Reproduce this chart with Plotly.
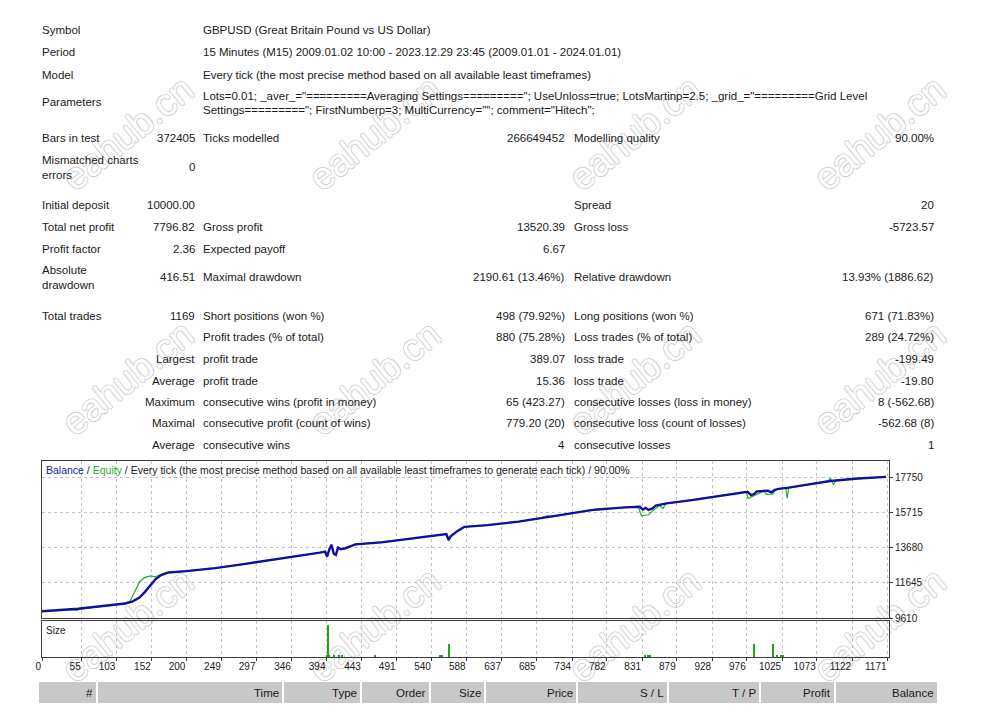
import plotly.graph_objects as go

W, H = 990, 715

# balance curve: trade number -> account balance
balance_trade = [0, 25, 50, 75, 100, 115, 125, 135, 142, 150, 157, 165, 175, 200, 240,
                 272, 310, 350, 385, 392, 395, 398, 401, 404, 407, 410, 414, 420, 434,
                 470, 500, 548, 560, 563, 566, 575, 585, 617, 660, 702, 730, 761, 807,
                 828, 832, 836, 840, 845, 850, 865, 900, 944, 977, 982, 986, 990, 1005,
                 1010, 1015, 1020, 1032, 1060, 1082, 1092, 1130, 1169]
balance_value = [10000, 10060, 10150, 10260, 10380, 10450, 10560, 10800, 11100, 11500,
                 11850, 12100, 12250, 12330, 12500, 12690, 12920, 13150, 13400, 13460,
                 13180, 13600, 13850, 13350, 13270, 13700, 13600, 13650, 13880, 14000,
                 14150, 14420, 14480, 14150, 14350, 14650, 14900, 15000, 15200, 15480,
                 15650, 15870, 16026, 16060, 15900, 16000, 15880, 15950, 16130, 16260,
                 16450, 16737, 16928, 16740, 16800, 16950, 17000, 16900, 17050, 17100,
                 17160, 17350, 17506, 17560, 17700, 17797]

# equity curve (only differs from balance where positions were open)
equity_trade = [0, 40, 48, 55, 100, 115, 122, 128, 135, 142, 150, 157, 165, 175, 200,
                240, 272, 310, 350, 385, 392, 395, 398, 401, 404, 407, 410, 414, 434,
                500, 548, 560, 563, 566, 575, 585, 617, 660, 690, 700, 705, 761, 770,
                790, 807, 826, 830, 840, 848, 855, 860, 864, 944, 975, 978, 985, 1000,
                1003, 1012, 1016, 1030, 1032, 1034, 1082, 1088, 1092, 1096, 1100, 1130,
                1169]
equity_value = [10000, 10100, 10050, 10140, 10380, 10470, 10600, 11100, 11700, 11950,
                12050, 12000, 12150, 12250, 12330, 12500, 12690, 12920, 13150, 13400,
                13460, 13150, 13600, 13850, 13300, 13250, 13650, 13600, 13880, 14150,
                14420, 14480, 14080, 14350, 14650, 14900, 15000, 15200, 15400, 15550,
                15480, 15870, 15950, 15980, 16026, 16050, 15540, 15600, 15900, 16150,
                15960, 16250, 16737, 16930, 16546, 16700, 16980, 16780, 16800, 17050,
                17150, 16546, 17160, 17506, 17560, 17700, 17360, 17600, 17700, 17797]

# lot sizes of the trades that show up in the size panel
size_trade = [394, 396, 398, 404, 411, 415, 461, 551, 554, 564, 835, 839, 842,
              986, 1012, 1018, 1023, 1026]
size_lots = [0.03, 0.39, 0.03, 0.03, 0.03, 0.03, 0.03, 0.03, 0.03, 0.16, 0.03, 0.03,
             0.03, 0.16, 0.16, 0.03, 0.03, 0.03]

x_ticks = [0, 55, 103, 152, 200, 249, 297, 346, 394, 443, 491, 540, 588, 637, 685,
           734, 782, 831, 879, 928, 976, 1025, 1073, 1122, 1171]
y_ticks = [9610, 11645, 13680, 15715, 17750]

# report summary: label, value, label, value, label, value
summary_rows = [
    ["Symbol", "", "GBPUSD (Great Britain Pound vs US Dollar)", "", "", ""],
    ["Period", "", "15 Minutes (M15) 2009.01.02 10:00 - 2023.12.29 23:45 (2009.01.01 - 2024.01.01)", "", "", ""],
    ["Model", "", "Every tick (the most precise method based on all available least timeframes)", "", "", ""],
    ["Parameters", "", "", "", "", ""],
    ["Bars in test", "372405", "Ticks modelled", "266649452", "Modelling quality", "90.00%"],
    ["Mismatched charts<br>errors", "0", "", "", "", ""],
    ["Initial deposit", "10000.00", "", "", "Spread", "20"],
    ["Total net profit", "7796.82", "Gross profit", "13520.39", "Gross loss", "-5723.57"],
    ["Profit factor", "2.36", "Expected payoff", "6.67", "", ""],
    ["Absolute<br>drawdown", "416.51", "Maximal drawdown", "2190.61 (13.46%)", "Relative drawdown", "13.93% (1886.62)"],
    ["Total trades", "1169", "Short positions (won %)", "498 (79.92%)", "Long positions (won %)", "671 (71.83%)"],
    ["", "", "Profit trades (% of total)", "880 (75.28%)", "Loss trades (% of total)", "289 (24.72%)"],
    ["", "Largest", "profit trade", "389.07", "loss trade", "-199.49"],
    ["", "Average", "profit trade", "15.36", "loss trade", "-19.80"],
    ["", "Maximum", "consecutive wins (profit in money)", "65 (423.27)", "consecutive losses (loss in money)", "8 (-562.68)"],
    ["", "Maximal", "consecutive profit (count of wins)", "779.20 (20)", "consecutive loss (count of losses)", "-562.68 (8)"],
    ["", "Average", "consecutive wins", "4", "consecutive losses", "1"],
]
parameter_lines = [
    'Lots=0.01; _aver_="=========Averaging Settings========="; UseUnloss=true; LotsMartinp=2.5; _grid_="=========Grid Level',
    'Settings========="; FirstNumberp=3; MultiCurrency=""; comment="Hitech";',
]
chart_title = ("<span style='color:#1a1aa8'>Balance</span> / "
               "<span style='color:#22b022'>Equity</span> / Every tick (the most precise method "
               "based on all available least timeframes to generate each tick) / 90.00%")
table_headers = ["#", "Time", "Type", "Order", "Size", "Price", "S / L", "T / P", "Profit", "Balance"]
watermark = "eahub.cn"

# pixel layout of the report (page body adds an 8px margin, taken off in px/py)
OFF = 8
row_y = [30, 52, 75, 102, 138, 167, 205, 227, 249, 277, 316, 337, 359, 381, 402, 423, 445]
col_x = [42, 195, 203, 565, 574, 934]
col_anchor = ["left", "right", "left", "right", "left", "right"]
header_edges = [38, 97, 283, 361, 430, 485, 577, 668, 760, 835, 938]
wm_x = [125, 372, 632, 877]
wm_y = [130, 375, 622]
FONT = "Liberation Sans"


def px(x):
    return (x - OFF) / W


def py(y):
    return 1 - (y - OFF) / H


def label(x, y, text, anchor="left", size=11.5, color="#1a1a1a", **kw):
    return dict(x=px(x), y=py(y), xref="paper", yref="paper", text=text, showarrow=False,
                xanchor=anchor, yanchor="middle", align=anchor, borderpad=0, borderwidth=0,
                font=dict(family=FONT, size=size, color=color), **kw)


fig = go.Figure()
fig.add_trace(go.Scatter(x=equity_trade, y=equity_value, mode="lines",
                         line=dict(color="#22b022", width=1.2), xaxis="x", yaxis="y"))
fig.add_trace(go.Scatter(x=balance_trade, y=balance_value, mode="lines",
                         line=dict(color="#10109c", width=2.4), xaxis="x", yaxis="y"))
fig.add_trace(go.Bar(x=size_trade, y=size_lots, width=1.0, marker=dict(color="#1fa61f", line_width=0),
                     xaxis="x2", yaxis="y2"))

shapes = []
# watermarks as labels of empty shapes on the lower layer, so the chart draws over them;
# the hollow look comes from a white fill with an outline shadow
outline = "#cfcfcf"
for wy in wm_y:
    for wx in wm_x:
        shapes.append(dict(
            type="rect", xref="paper", yref="paper", layer="below",
            x0=px(wx - 1), x1=px(wx + 1), y0=py(wy + 1), y1=py(wy - 1),
            line_width=0, fillcolor="rgba(0,0,0,0)",
            label=dict(text=watermark, textangle=-39, textposition="middle center",
                       font=dict(family=FONT, size=38, color="white",
                                 shadow=(f"1px 0 0 {outline}, -1px 0 0 {outline}, "
                                         f"0 1px 0 {outline}, 0 -1px 0 {outline}"))),
        ))

annotations = []
for y, row in zip(row_y, summary_rows):
    for x, anchor, cell in zip(col_x, col_anchor, row):
        if cell:
            annotations.append(label(x, y, cell, anchor))
for i, line in enumerate(parameter_lines):
    annotations.append(label(203, 96 + 14 * i, line))

annotations.append(label(46, 470, chart_title, size=10.5, color="#202020"))
annotations.append(label(46, 630, "Size", size=10, color="#202020"))

for left, right, head in zip(header_edges[:-1], header_edges[1:], table_headers):
    shapes.append(dict(type="rect", xref="paper", yref="paper", x0=px(left + 1), x1=px(right - 1),
                       y0=py(703), y1=py(682), fillcolor="#c8c8c8", line_width=0, layer="below"))
    annotations.append(label(right - 4, 693, head, anchor="right"))

grid = dict(showgrid=True, gridcolor="#c4c4c4", griddash="3px,3px", gridwidth=1, zeroline=False,
            showline=True, mirror=True, linecolor="#3a3a3a", linewidth=1, automargin=False)

fig.update_layout(
    width=W, height=H, template="none", showlegend=False,
    margin=dict(l=0, r=0, t=0, b=0), paper_bgcolor="white", plot_bgcolor="rgba(0,0,0,0)",
    bargap=0,
    xaxis=dict(domain=[px(42), px(889)], anchor="y", range=[0, 1173], tickvals=x_ticks,
               showticklabels=False, **grid),
    yaxis=dict(domain=[py(618), py(461)], anchor="x", range=[9610, 18718], tickvals=y_ticks,
               tickformat="d", side="right", ticks="outside", ticklen=3, tickcolor="#3a3a3a",
               tickfont=dict(family=FONT, size=10, color="#202020"), **grid),
    xaxis2=dict(domain=[px(42), px(889)], anchor="y2", matches="x", tickvals=x_ticks,
                ticks="outside", ticklen=3, tickcolor="#3a3a3a", ticklabelposition="outside left",
                tickfont=dict(family=FONT, size=10, color="#202020"), **grid),
    yaxis2=dict(domain=[py(657), py(621)], anchor="x2", range=[0, 0.44], showticklabels=False,
                showgrid=False, zeroline=False, showline=True, mirror=True, linecolor="#3a3a3a",
                automargin=False),
    annotations=annotations,
    shapes=shapes,
)

fig.write_html("out.html")
